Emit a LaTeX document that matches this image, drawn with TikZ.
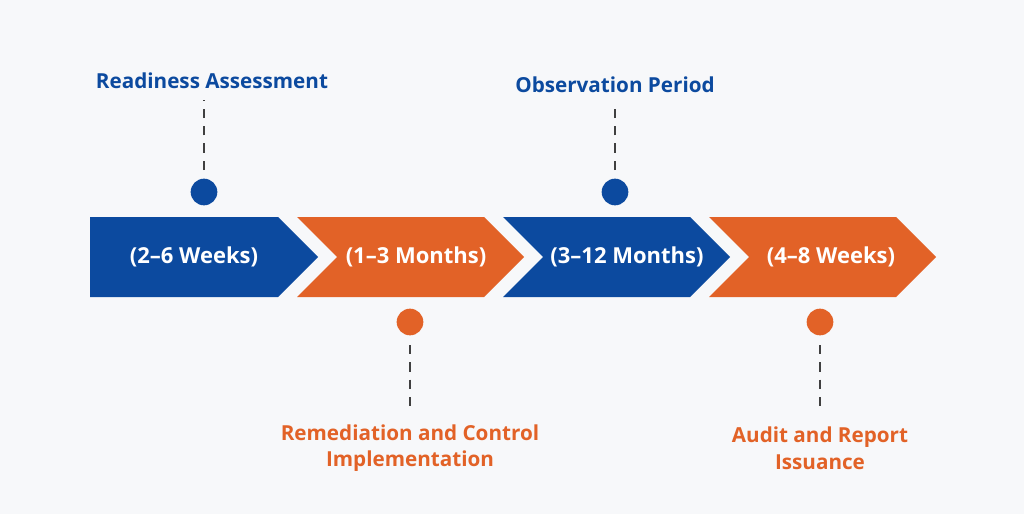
\documentclass[tikz,border=0pt]{standalone}
\usepackage{fontspec}
\setmainfont{Open Sans}
\usetikzlibrary{positioning}
\definecolor{bluephase}{HTML}{0C4A9F}
\definecolor{orangephase}{HTML}{E26227}
\definecolor{pagebg}{HTML}{F7F8FA}
\begin{document}
\begin{tikzpicture}[x=0.75pt,y=-0.75pt]
    \tikzset{dot/.style={circle, minimum size=20pt, inner sep=0pt},
             span/.style={font=\bfseries\fontsize{16.5}{19}\selectfont, text=white},
             phase/.style={font=\bfseries\fontsize{15.5}{20}\selectfont, align=center},
             stem/.style={draw=black!75, line width=1.6pt, dash pattern=on 7pt off 6pt}}
    \fill[pagebg] (0,0) rectangle (1024,514);
    \useasboundingbox (0,0) rectangle (1024,514);

    % chevrons
    \fill[bluephase] (90,217) -- (278,217) -- (318,257) -- (278,297) -- (90,297) -- cycle;
    \foreach \x/\c in {297/orangephase, 503/bluephase, 709/orangephase}
        \fill[\c] (\x,217) -- (\x+187,217) -- (\x+227,257) -- (\x+187,297) -- (\x,297) -- (\x+40,257) -- cycle;

    \node[span] (s1) at (194,257) {(2–6 Weeks)};
    \node[span] (s2) at (416,257) {(1–3 Months)};
    \node[span] (s3) at (627,257) {(3–12 Months)};
    \node[span] (s4) at (831,257) {(4–8 Weeks)};

    % milestones
    \node[dot, fill=bluephase] (d1) at (204,192) {};
    \node[dot, fill=orangephase] (d2) at (410,322) {};
    \node[dot, fill=bluephase] (d3) at (615,192) {};
    \node[dot, fill=orangephase] (d4) at (820,322) {};

    \node[phase, text=bluephase] (p1) at (212,81) {Readiness Assessment};
    \node[phase, text=orangephase] (p2) at (410,448) {Remediation and Control\\Implementation};
    \node[phase, text=bluephase] (p3) at (615,85) {Observation Period};
    \node[phase, text=orangephase] (p4) at (820,448) {Audit and Report\\Issuance};

    \coordinate (c1) at (204,170);
    \coordinate (c2) at (410,345);
    \coordinate (c3) at (615,170);
    \coordinate (c4) at (820,345);
    \draw[stem] (c1) -- (204,100);
    \draw[stem] (c2) -- (410,412);
    \draw[stem] (c3) -- (615,104);
    \draw[stem] (c4) -- (820,412);
\end{tikzpicture}
\end{document}
